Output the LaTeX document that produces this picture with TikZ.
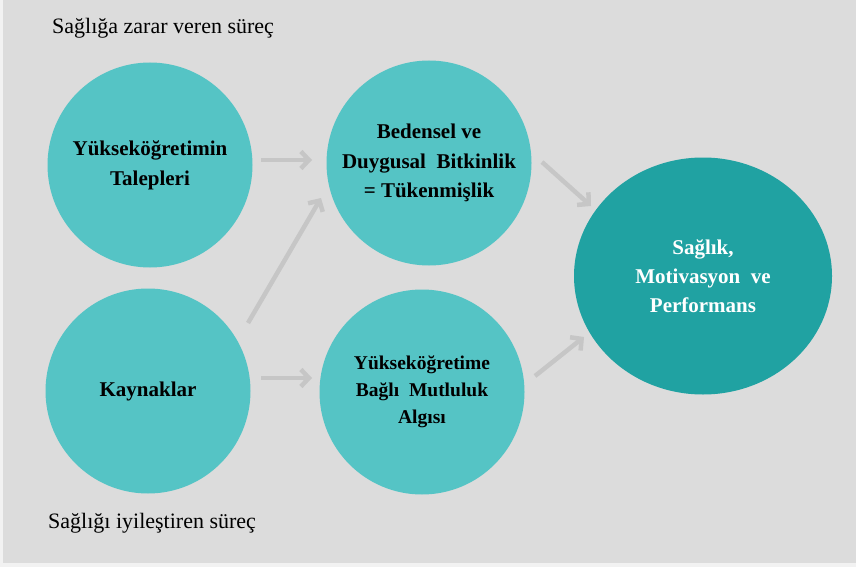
\documentclass[tikz,border=0pt]{standalone}
\usepackage{fontspec}
\newfontfamily\libserif{Liberation Serif}
\usetikzlibrary{arrows.meta,shapes.geometric}
\definecolor{bgc}{HTML}{DCDCDC}
\definecolor{outerc}{HTML}{F2F2F2}
\definecolor{lightteal}{HTML}{55C4C5}
\definecolor{darkteal}{HTML}{20A2A2}
\definecolor{arrowc}{HTML}{C6C6C6}
\tikzset{
  small circ/.style={circle, fill=lightteal, minimum size=205pt, inner sep=0pt, align=center, font=\fontsize{21}{29.5}\selectfont\libserif\bfseries, text=black},
  big circ/.style={ellipse, fill=darkteal, minimum width=258pt, minimum height=237pt, inner sep=0pt, align=center, font=\fontsize{21}{29}\selectfont\libserif\bfseries, text=white},
  conn/.style={draw=arrowc, line width=4.5pt, -{Straight Barb[length=8pt,width=17pt,line width=4.5pt]}},
  caption/.style={anchor=west, font=\fontsize{22}{24}\selectfont\libserif, text=black, inner sep=0pt}
}
\begin{document}
\begin{tikzpicture}[x=1pt,y=-1pt]
\fill[outerc] (0,0) rectangle (856,567);
\fill[bgc] (3,0) rectangle (856,563);
\useasboundingbox (0,0) rectangle (856,567);
\node[caption] (top) at (52,28) {Sağlığa zarar veren süreç};
\node[caption] (bot) at (48,523) {Sağlığı iyileştiren süreç};
\node[small circ] (dem) at (150,165) {\raisebox{-3pt}{\shortstack{Yükseköğretimin\\[8pt]Talepleri}}};
\node[small circ] (res) at (148,391) {\raisebox{-3pt}{Kaynaklar}};
\node[small circ] (burn) at (429,163) {Bedensel ve\\Duygusal\ \ Bitkinlik\\= Tükenmişlik};
\node[small circ, font=\fontsize{19.5}{27}\selectfont\libserif\bfseries] (happy) at (422,392) {Yükseköğretime\\Bağlı\ \ Mutluluk\\Algısı};
\node[big circ] (out) at (703,276) {Sağlık,\\Motivasyon\ \ ve\\Performans};
\draw[conn] (261,160) -- (312,160);
\draw[conn] (248,323) -- (321,198);
\draw[conn] (261,378) -- (312,378);
\draw[conn] (542,162) -- (591,206);
\draw[conn] (535,376) -- (584,337);
\end{tikzpicture}
\end{document}
